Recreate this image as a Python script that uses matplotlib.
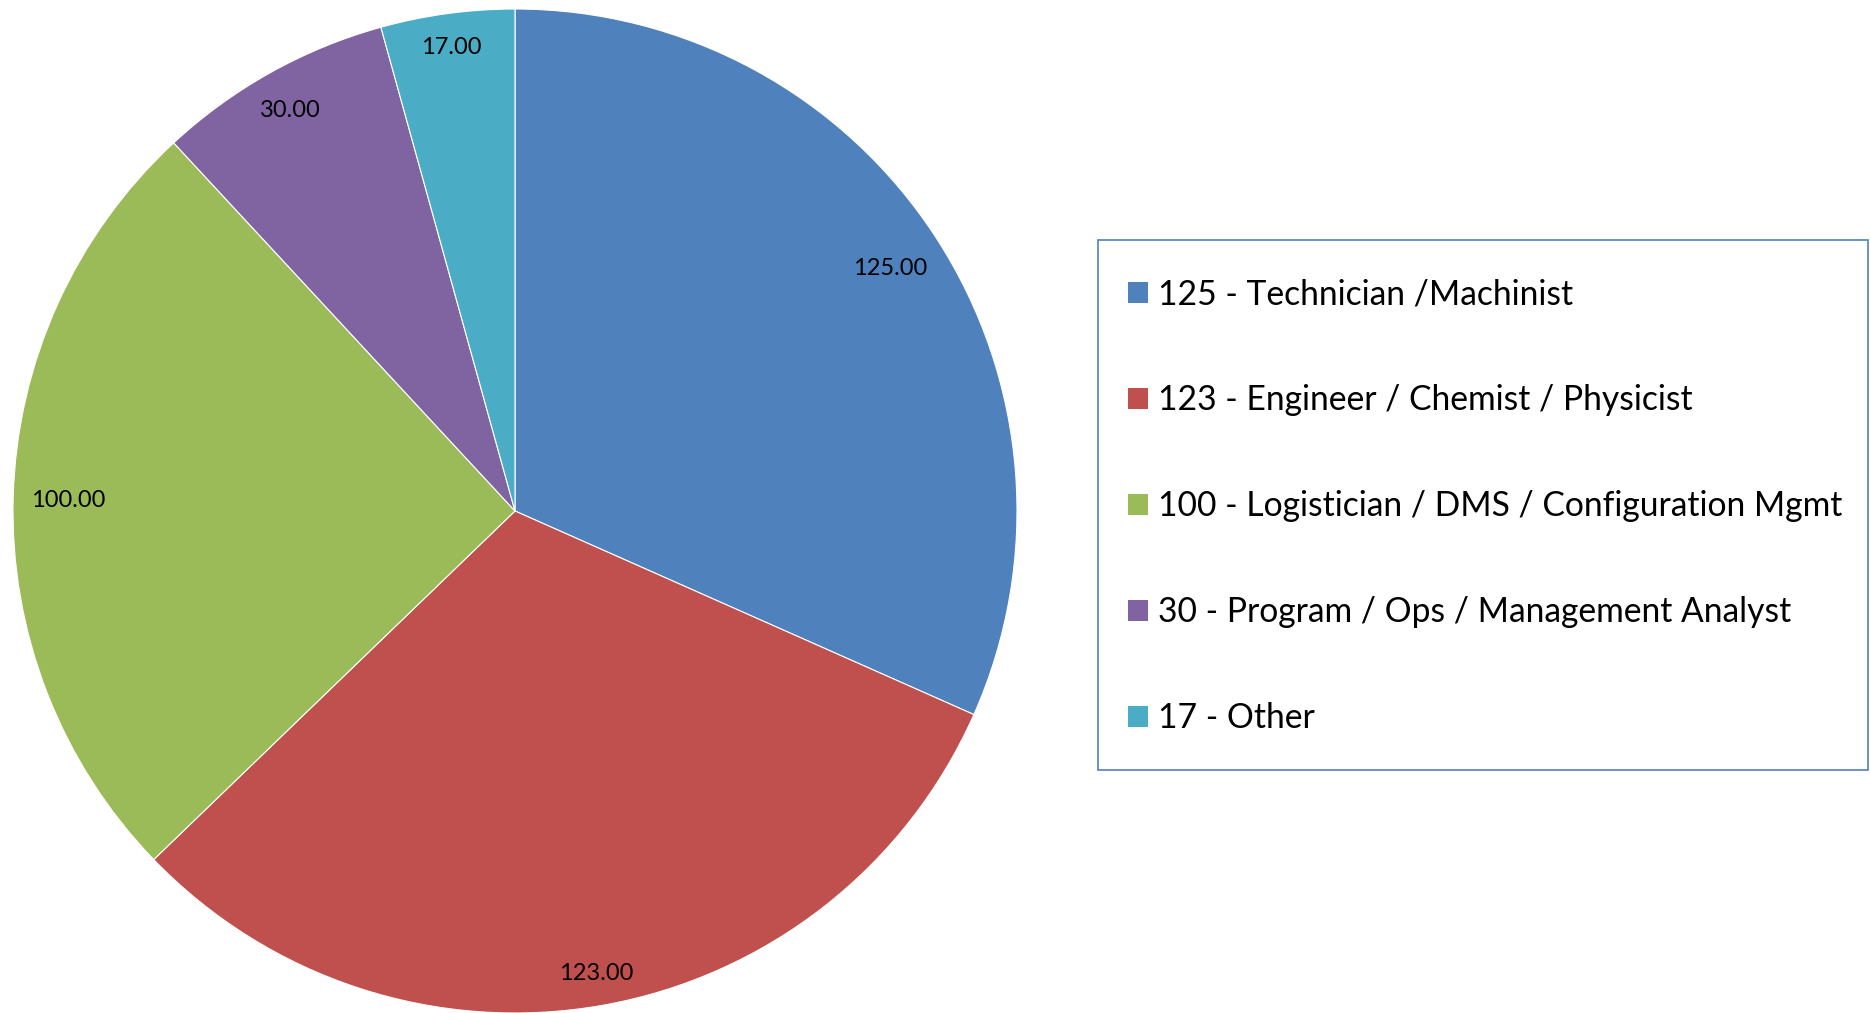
import numpy as np
import matplotlib
matplotlib.use("Agg")
import matplotlib.pyplot as plt
from matplotlib.patches import Patch, Rectangle

plt.rcParams['font.family'] = ['Lato', 'DejaVu Sans']

# data
categories = ['Technician /Machinist', 'Engineer / Chemist / Physicist',
              'Logistician / DMS / Configuration Mgmt',
              'Program / Ops / Management Analyst', 'Other']
counts = [125, 123, 100, 30, 17]
colors = ['#4F81BD', '#C0504D', '#9BBB59', '#8064A2', '#4BACC6']

W, H = 1870, 1013
fig = plt.figure(figsize=(W / 100, H / 100), dpi=100)

# pie axes placed in pixels: centre (515, 511), radius 502
cx, cy, r = 515, 511, 502
ax = fig.add_axes([(cx - r) / W, (H - cy - r) / H, 2 * r / W, 2 * r / H])
total = sum(counts)
wedges, texts, autotexts = ax.pie(
    counts, colors=colors, startangle=90, counterclock=False, radius=1,
    autopct=lambda p: f"{p * total / 100:.2f}", pctdistance=0.9,
    wedgeprops=dict(edgecolor='white', linewidth=0.8),
    textprops=dict(fontsize=17, color='black'))
ax.set_xlim(-1, 1)
ax.set_ylim(-1, 1)
ax.set_aspect('equal')
ax.axis('off')

# "inside end" labels: push each label out until its box touches ~0.965 r
renderer = fig.canvas.get_renderer()
for w, t in zip(wedges, autotexts):
    t.set_va('center_baseline')
    ang = np.deg2rad((w.theta1 + w.theta2) / 2)
    bb = t.get_window_extent(renderer)
    hw, hh = bb.width / 2 / r, bb.height / 2 / r
    d = 0.965 - hw * abs(np.cos(ang)) - hh * abs(np.sin(ang))
    t.set_position((d * np.cos(ang), d * np.sin(ang)))

# legend box at right
box = Rectangle((1098 / W, 1 - 770 / H), 770 / W, 530 / H, transform=fig.transFigure,
                facecolor='white', edgecolor='#4F81BD', linewidth=1.2)
fig.patches.append(box)

labels = [f"{c} - {n}" for c, n in zip(counts, categories)]
handles = [Patch(facecolor=col, edgecolor='none') for col in colors]
leg = fig.legend(handles, labels, loc='upper left',
                 bbox_to_anchor=(1128 / W, 1 - 278.5 / H),
                 fontsize=24.2, labelspacing=2.2,
                 handlelength=0.6, handleheight=0.6, handletextpad=0.3,
                 borderpad=0, borderaxespad=0, frameon=False)

fig.savefig('out.png', dpi=100, facecolor='white')
